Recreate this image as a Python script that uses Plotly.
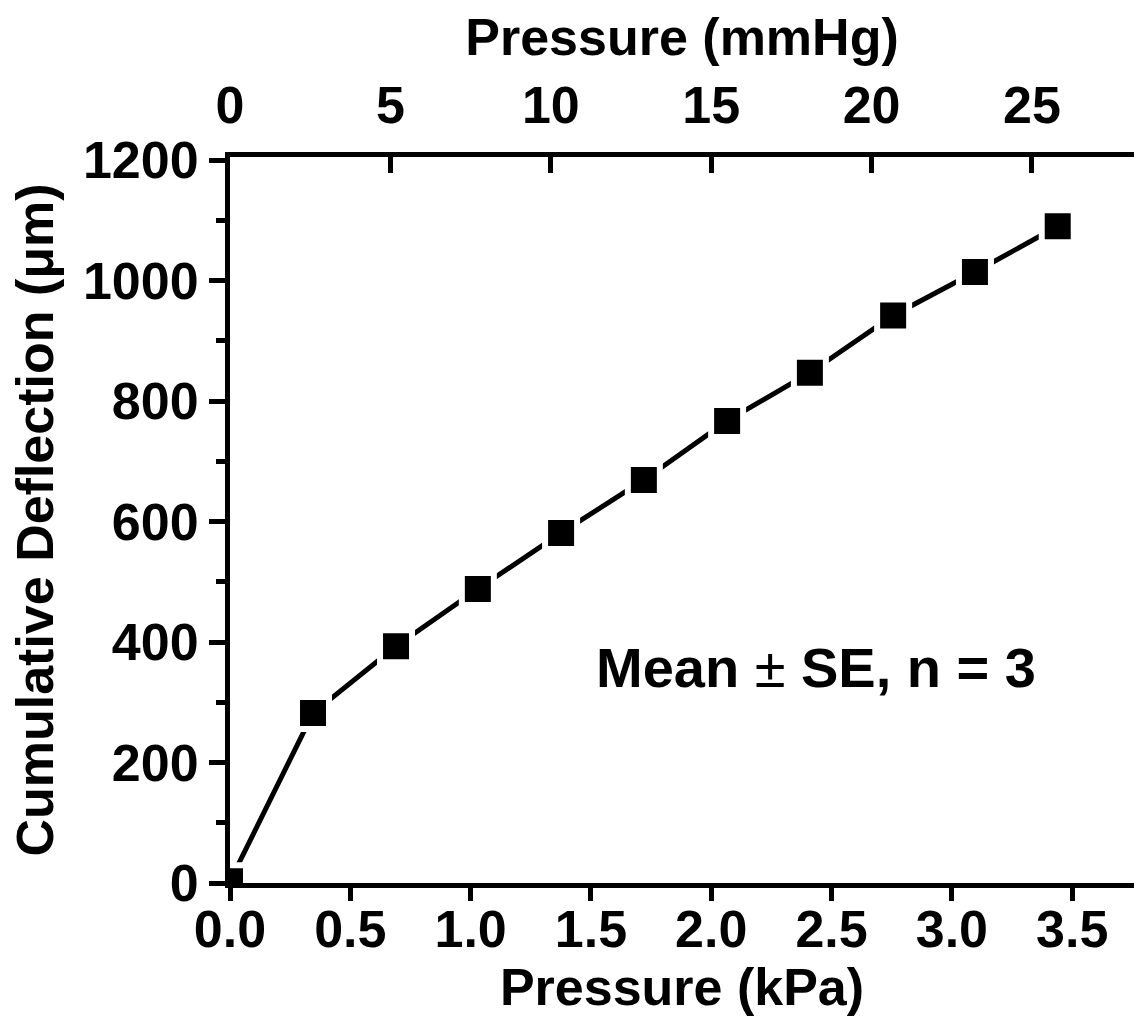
import plotly.graph_objects as go

# Data
pressure_kpa = [0.0, 0.345, 0.690, 1.030, 1.376, 1.720, 2.066, 2.410, 2.756, 3.096, 3.440]
deflection_um = [3, 282, 393, 488, 581, 669, 767, 847, 942, 1014, 1090]

KPA_PER_MMHG = 0.133322
x_tick_vals = [0.0, 0.5, 1.0, 1.5, 2.0, 2.5, 3.0, 3.5]
x_tick_text = ["0.0", "0.5", "1.0", "1.5", "2.0", "2.5", "3.0", "3.5"]
top_tick_vals = [0, 5, 10, 15, 20, 25]
y_tick_vals = [0, 200, 400, 600, 800, 1000, 1200]

X_MAX = 3.757
FONT = "Liberation Sans, Arial, sans-serif"
FS = 52

fig = go.Figure()

fig.add_trace(go.Scatter(
    x=pressure_kpa, y=deflection_um,
    mode="lines+markers",
    line=dict(color="black", width=5),
    marker=dict(symbol="square", size=32, color="black",
                line=dict(color="white", width=6)),
    showlegend=False, hoverinfo="skip",
))
# invisible trace to anchor the top (mmHg) axis
fig.add_trace(go.Scatter(
    x=[p / KPA_PER_MMHG for p in pressure_kpa], y=deflection_um,
    xaxis="x2", mode="markers", marker=dict(opacity=0),
    showlegend=False, hoverinfo="skip",
))

def tfont():
    return dict(family=FONT, size=FS, color="black", weight="bold")

axis_common = dict(showgrid=False, zeroline=False, showline=True,
                   linecolor="black", linewidth=5, tickcolor="black",
                   tickwidth=5, tickfont=tfont())

fig.update_layout(
    width=1134, height=1022,
    margin=dict(l=230, r=0, t=157, b=139),
    paper_bgcolor="white", plot_bgcolor="white",
    font=tfont(),
    xaxis=dict(range=[0, X_MAX], tickvals=x_tick_vals, ticktext=x_tick_text,
               ticks="outside", ticklen=13, ticklabelstandoff=-16,
               title=dict(text="Pressure (kPa)", standoff=8, font=tfont()),
               **axis_common),
    xaxis2=dict(range=[0, X_MAX / KPA_PER_MMHG], overlaying="x", side="top",
                anchor="y", tickvals=top_tick_vals, ticks="inside", ticklen=16,
                ticklabelstandoff=8,
                title=dict(text="Pressure (mmHg)", standoff=6, font=tfont()),
                **axis_common),
    yaxis=dict(range=[0, 1205], tickvals=y_tick_vals, ticks="outside", ticklen=16,
               minor=dict(dtick=100, tick0=0, ticks="outside", ticklen=9,
                          tickwidth=5, tickcolor="black"),
               title=dict(text="Cumulative Deflection (μm)", standoff=14, font=tfont()),
               **axis_common),
    annotations=[dict(text='Mean <span style="font-weight:normal">±</span> SE, n = 3',
                      xref="paper", yref="paper",
                      x=0.648, y=0.2975, xanchor="center", yanchor="middle",
                      showarrow=False,
                      font=dict(family=FONT, size=56, color="black", weight="bold"))],
)

fig.write_html("out.html")
